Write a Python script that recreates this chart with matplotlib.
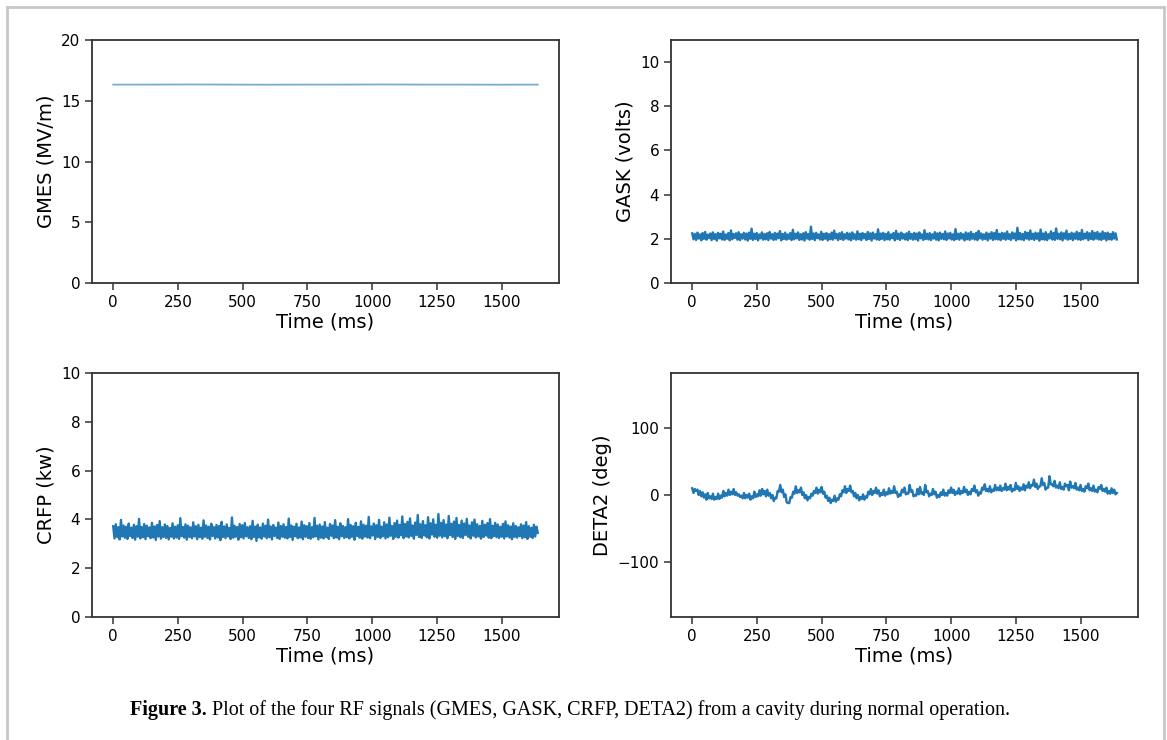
import numpy as np
import matplotlib
matplotlib.use("Agg")
import matplotlib.pyplot as plt
from matplotlib.lines import Line2D

plt.rcParams["font.family"] = ["DejaVu Sans"]

# --- data (time axis 0..1640 ms) ---
T_END = 1640

GMES = [16.33, 16.33, 16.34, 16.33, 16.32, 16.33, 16.33, 16.34, 16.33, 16.33, 16.32, 16.33]

GASK = [
    2.25, 1.98, 2.22, 1.95, 2.28, 2.01, 2.20, 1.93, 2.26, 2.00, 2.31, 1.96, 2.19, 2.03, 2.24,
    1.94, 2.29, 1.99, 2.21, 1.92, 2.27, 2.02, 2.23, 1.97, 2.33, 1.95, 2.20, 2.00, 2.26, 1.93,
    2.38, 1.98, 2.22, 2.04, 2.25, 1.96, 2.30, 1.94, 2.21, 2.01, 2.27, 1.97, 2.24, 1.92, 2.28,
    2.00, 2.46, 1.95, 2.23, 1.99, 2.26, 1.93, 2.20, 2.02, 2.29, 1.96, 2.22, 1.98, 2.25, 1.94,
    2.31, 2.01, 2.21, 1.95, 2.27, 1.97, 2.24, 2.03, 2.35, 1.93, 2.22, 1.99, 2.28, 1.96, 2.20,
    2.00, 2.26, 1.94, 2.41, 1.98, 2.23, 2.02, 2.29, 1.95, 2.21, 1.97, 2.25, 1.92, 2.30, 2.01,
    2.22, 1.96, 2.55, 1.99, 2.24, 1.94, 2.27, 2.03, 2.20, 1.97, 2.32, 1.95, 2.23, 2.00, 2.26,
    1.93, 2.21, 1.98, 2.28, 1.96, 2.37, 2.02, 2.22, 1.94, 2.25, 1.99, 2.30, 1.95, 2.21, 2.01,
    2.27, 1.97, 2.24, 1.93, 2.29, 2.00, 2.20, 1.96, 2.34, 1.98, 2.23, 1.94, 2.26, 2.02, 2.22,
    1.95, 2.31, 1.99, 2.25, 1.92, 2.28, 2.01, 2.21, 1.97, 2.43, 1.95, 2.24, 2.00, 2.27, 1.94,
    2.22, 1.98, 2.30, 1.96, 2.20, 2.03, 2.26, 1.93, 2.36, 1.99, 2.23, 1.95, 2.28, 2.01, 2.21,
    1.97, 2.25, 1.94, 2.32, 2.00, 2.22, 1.96, 2.27, 1.98, 2.24, 1.92, 2.29, 2.02, 2.20, 1.95,
    2.39, 1.99, 2.23, 1.97, 2.26, 1.94, 2.21, 2.01, 2.30, 1.96, 2.25, 1.93, 2.28, 2.00, 2.22,
    1.98, 2.33, 1.95, 2.24, 2.02, 2.27, 1.97, 2.20, 1.94, 2.44, 1.99, 2.23, 1.96, 2.26, 2.01,
    2.21, 1.93, 2.29, 1.98, 2.25, 1.95, 2.31, 2.00, 2.22, 1.97, 2.27, 1.94, 2.36, 2.02, 2.24,
    1.96, 2.20, 1.99, 2.28, 1.93, 2.23, 2.01, 2.30, 1.95, 2.26, 1.98, 2.40, 1.97, 2.22, 1.94,
    2.27, 2.00, 2.25, 1.96, 2.33, 1.99, 2.21, 1.95, 2.29, 2.02, 2.24, 1.93, 2.50, 1.98, 2.26,
    1.97, 2.22, 1.94, 2.31, 2.01, 2.27, 1.96, 2.38, 1.99, 2.23, 1.95, 2.28, 2.00, 2.25, 1.92,
    2.42, 1.98, 2.24, 1.96, 2.30, 1.94, 2.21, 2.02, 2.34, 1.97, 2.26, 1.95, 2.47, 2.00, 2.23,
    1.98, 2.29, 1.93, 2.25, 2.01, 2.37, 1.96, 2.22, 1.99, 2.28, 1.94, 2.24, 2.00, 2.32, 1.97,
    2.26, 1.95, 2.40, 1.98, 2.23, 2.02, 2.30, 1.94, 2.25, 1.99, 2.35, 1.96, 2.27, 2.01, 2.31,
    1.97, 2.24, 1.95, 2.33, 2.00, 2.26, 1.93, 2.28, 1.98, 2.22, 1.96, 2.30, 2.01, 2.25, 1.97,
]

CRFP = [
    3.72, 3.22, 3.80, 3.28, 3.68, 3.18, 3.98, 3.30, 3.75, 3.25, 3.70, 3.20, 3.83, 3.32, 3.66,
    3.24, 3.78, 3.17, 3.72, 3.29, 4.02, 3.22, 3.69, 3.27, 3.81, 3.19, 3.74, 3.31, 3.67, 3.23,
    3.86, 3.26, 3.71, 3.16, 3.77, 3.30, 3.93, 3.21, 3.68, 3.28, 3.79, 3.24, 3.73, 3.18, 3.65,
    3.29, 3.84, 3.22, 3.70, 3.26, 3.76, 3.20, 4.05, 3.31, 3.69, 3.25, 3.80, 3.17, 3.74, 3.28,
    3.67, 3.23, 3.88, 3.30, 3.72, 3.19, 3.78, 3.27, 3.66, 3.21, 3.96, 3.29, 3.75, 3.24, 3.70,
    3.18, 3.82, 3.32, 3.68, 3.22, 3.77, 3.26, 3.73, 3.15, 3.90, 3.28, 3.71, 3.23, 3.79, 3.30,
    3.65, 3.20, 4.08, 3.25, 3.74, 3.29, 3.69, 3.17, 3.81, 3.27, 3.76, 3.22, 3.85, 3.31, 3.68,
    3.24, 3.72, 3.19, 3.94, 3.28, 3.70, 3.12, 3.78, 3.26, 3.67, 3.21, 3.83, 3.30, 3.74, 3.23,
    3.99, 3.27, 3.71, 3.18, 3.77, 3.32, 3.66, 3.24, 3.87, 3.20, 3.73, 3.29, 3.80, 3.25, 3.69,
    3.22, 4.03, 3.28, 3.75, 3.16, 3.70, 3.31, 3.82, 3.23, 3.67, 3.26, 3.91, 3.19, 3.76, 3.29,
    3.72, 3.24, 3.85, 3.21, 3.68, 3.27, 4.06, 3.30, 3.74, 3.18, 3.79, 3.25, 3.71, 3.22, 3.89,
    3.28, 3.66, 3.20, 3.81, 3.33, 3.75, 3.23, 3.97, 3.26, 3.70, 3.19, 3.84, 3.31, 3.73, 3.24,
    3.68, 3.27, 4.01, 3.22, 3.77, 3.29, 3.72, 3.17, 3.86, 3.32, 3.69, 3.25, 3.92, 3.21, 3.78,
    3.30, 3.74, 3.26, 4.10, 3.23, 3.71, 3.34, 3.83, 3.19, 3.76, 3.28, 3.98, 3.24, 3.70, 3.31,
    3.88, 3.22, 3.79, 3.27, 4.07, 3.33, 3.73, 3.20, 3.85, 3.29, 3.95, 3.25, 3.77, 3.35, 4.12,
    3.23, 3.81, 3.30, 3.90, 3.26, 4.04, 3.32, 3.75, 3.21, 3.87, 3.36, 4.18, 3.28, 3.80, 3.24,
    3.93, 3.34, 3.76, 3.27, 4.09, 3.22, 3.84, 3.38, 4.00, 3.29, 3.78, 3.25, 4.22, 3.33, 3.86,
    3.26, 3.97, 3.31, 3.79, 3.23, 4.14, 3.35, 3.82, 3.28, 3.91, 3.20, 4.06, 3.32, 3.77, 3.27,
    3.95, 3.24, 3.83, 3.36, 4.02, 3.29, 3.75, 3.22, 3.88, 3.33, 3.99, 3.26, 3.80, 3.30, 3.73,
    3.21, 3.94, 3.28, 3.78, 3.34, 3.85, 3.25, 4.01, 3.23, 3.74, 3.31, 3.86, 3.27, 3.79, 3.24,
    3.70, 3.29, 3.82, 3.22, 3.92, 3.30, 3.76, 3.26, 3.71, 3.19, 3.84, 3.28, 3.73, 3.25, 3.68,
    3.31, 3.80, 3.23, 3.75, 3.27, 3.89, 3.20, 3.72, 3.29, 3.66, 3.24, 3.78, 3.30, 3.70, 3.45,
]

DETA2 = [
    10, 3, 9, 6, 8, 0, 6, -2, 4, -4, 1, -7, 3, -5, -2, -6, 2, -7, -3, -6,
    2, -6, -1, -4, 6, -2, 3, -1, 8, 0, 5, 1, 9, 0, 4, -1, 1, -3, -1, -5,
    3, -5, 0, -4, 2, -7, -2, -5, 5, -3, 1, -2, 7, -1, 9, 1, 6, -2, 8, -1,
    3, -5, 0, -9, -4, -5, 6, 5, 15, 4, 8, -3, 1, -11, -12, -12, -3, -4, 5, 2,
    13, 3, 7, 4, 11, 0, 4, -5, 0, -8, -3, -5, 2, -1, 6, 3, 11, 2, 8, 4,
    12, 2, 5, -4, -1, -9, -4, -12, -7, -9, -1, -10, -5, -7, 1, -2, 7, 4, 13, 3,
    9, 6, 14, 4, 6, -2, 3, -5, 0, -8, -3, -6, 1, -7, -2, -4, 5, 1, 9, 0,
    6, 3, 11, 2, 7, -2, 3, 0, 8, -1, 4, 1, 10, 2, 6, 3, 13, 3, 5, -3,
    1, -1, 8, 4, 11, 1, 3, 2, 15, 5, 7, -2, 0, -1, 9, 1, 12, 2, 4, 0,
    15, 4, 6, -2, 2, 0, 9, 1, 5, -4, 0, -3, 4, 0, 8, -1, 3, -1, 7, 3,
    11, 3, 8, 0, 5, 2, 10, 1, 6, 3, 12, 4, 8, 0, 5, 1, 9, 6, 14, 4,
    7, -1, 4, 2, 11, 8, 16, 6, 9, 5, 13, 4, 8, 6, 15, 7, 11, 7, 14, 6,
    10, 8, 17, 7, 12, 8, 15, 5, 9, 7, 18, 9, 13, 6, 11, 8, 16, 7, 14, 11,
    19, 10, 15, 14, 23, 12, 17, 9, 13, 13, 25, 15, 18, 8, 11, 11, 28, 16, 16, 13,
    21, 11, 14, 10, 19, 9, 12, 8, 17, 13, 15, 7, 20, 11, 13, 10, 18, 8, 11, 7,
    15, 6, 9, 5, 13, 10, 17, 7, 10, 6, 14, 5, 8, 4, 12, 9, 15, 6, 9, 5,
    11, 2, 6, 2, 10, 3, 8, 1, 3,
]

YLABELS = ["GMES (MV/m)", "GASK (volts)", "CRFP (kw)", "DETA2 (deg)"]
YLIMS = [(0, 20), (0, 11), (0, 10), (-182, 182)]
YTICKS = [[0, 5, 10, 15, 20], [0, 2, 4, 6, 8, 10], [0, 2, 4, 6, 8, 10], [-100, 0, 100]]
XTICKS = [0, 250, 500, 750, 1000, 1250, 1500]
CAPTION_BOLD = "Figure 3."
CAPTION = " Plot of the four RF signals (GMES, GASK, CRFP, DETA2) from a cavity during normal operation."

W, H = 1167, 740
fig = plt.figure(figsize=(W / 100, H / 100), dpi=100)

# axes boxes in pixels: left, top, right, bottom
boxes = [(92, 40, 559, 283), (671, 40, 1138, 283), (92, 373, 559, 617), (671, 373, 1138, 617)]
series = [GMES, GASK, CRFP, DETA2]

for i, (l, t, r, b) in enumerate(boxes):
    ax = fig.add_axes([l / W, 1 - b / H, (r - l) / W, (b - t) / H])
    y = np.asarray(series[i], dtype=float)
    x = np.linspace(0, T_END, len(y))
    if i == 0:
        ax.plot(x, y, color="#1f77b4", lw=1.3, alpha=0.6)
    else:
        ax.plot(x, y, color="#1f77b4", lw=1.7)
    ax.set_ylim(*YLIMS[i])
    ax.set_yticks(YTICKS[i])
    ax.set_xticks(XTICKS)
    ax.set_xlim(-0.05 * T_END, 1.05 * T_END)
    ax.set_xlabel("Time (ms)", fontsize=14, labelpad=2)
    ax.set_ylabel(YLABELS[i], fontsize=14)
    ax.tick_params(labelsize=11, length=5, width=1.1, color="#333333")
    for sp in ax.spines.values():
        sp.set_linewidth(1.3)
        sp.set_color("#333333")

# page frame
frame_kw = dict(color="#c8c8c8", lw=2, transform=fig.transFigure)
fig.add_artist(Line2D([7 / W, 7 / W], [0, 1 - 7 / H], **frame_kw))
fig.add_artist(Line2D([7 / W, 1164 / W], [1 - 7 / H, 1 - 7 / H], **frame_kw))
fig.add_artist(Line2D([1164 / W, 1164 / W], [0, 1 - 7 / H], **frame_kw))

# caption: bold lead-in followed by regular text
cap_y = 1 - 710 / H
t1 = fig.text(130 / W, cap_y, CAPTION_BOLD, fontsize=14.5, weight="bold",
              family="Liberation Serif", va="center")
fig.canvas.draw()
bb = t1.get_window_extent()
fig.text(bb.x1 / W, cap_y, CAPTION, fontsize=14.5, family="Liberation Serif", va="center")

fig.savefig("out.png", dpi=100)
